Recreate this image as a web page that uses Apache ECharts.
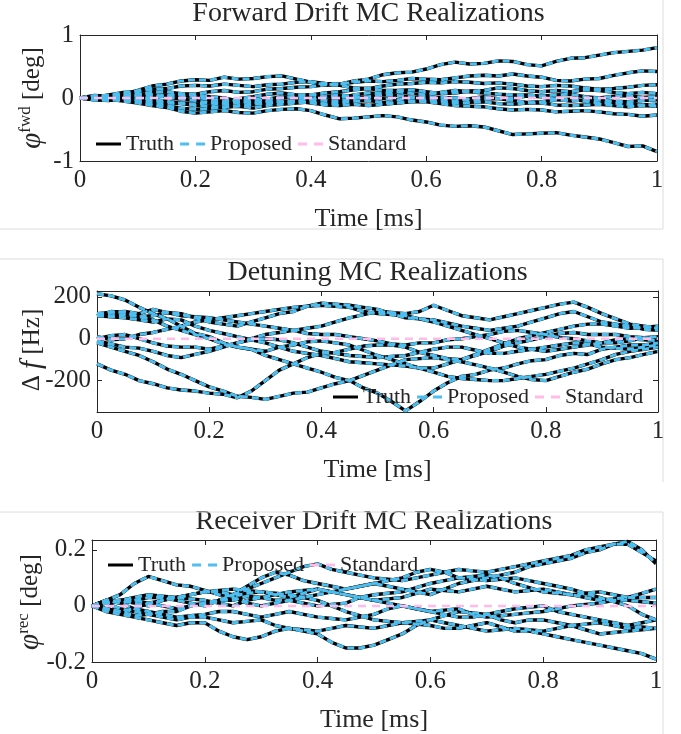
<!DOCTYPE html>
<html>
<head>
<meta charset="utf-8">
<script src="https://cdn.jsdelivr.net/npm/echarts@6/dist/echarts.min.js"></script>
<style>
html,body{margin:0;padding:0;background:#fff;}
#chart{width:681px;height:734px;}
</style>
</head>
<body>
<div id="chart"></div>
<script>
// ---------------- data ----------------
const timeMs = [0,0.025,0.05,0.075,0.1,0.125,0.15,0.175,0.2,0.225,0.25,0.275,0.3,0.325,0.35,0.375,0.4,0.425,0.45,0.475,0.5,
                0.525,0.55,0.575,0.6,0.625,0.65,0.675,0.7,0.725,0.75,0.775,0.8,0.825,0.85,0.875,0.9,0.925,0.95,0.975,1];
const xTicks = [0,0.2,0.4,0.6,0.8,1];

// Forward drift realizations [deg]
const fwd1  = [0,0.04,0.03,0.06,0.12,0.19,0.22,0.27,0.29,0.28,0.33,0.30,0.31,0.34,0.35,0.30,0.25,0.21,0.22,0.27,0.30,0.37,0.40,0.41,0.46,0.53,0.57,0.54,0.55,0.59,0.58,0.53,0.51,0.58,0.63,0.64,0.68,0.72,0.74,0.76,0.80];
const fwd2  = [0,0.01,0.05,0.09,0.10,0.14,0.15,0.19,0.20,0.19,0.22,0.20,0.18,0.21,0.22,0.25,0.26,0.23,0.22,0.25,0.27,0.26,0.28,0.31,0.30,0.29,0.32,0.35,0.36,0.35,0.38,0.35,0.33,0.28,0.27,0.30,0.31,0.36,0.40,0.43,0.42];
const fwd3  = [0,0.02,-0.02,0.03,0.05,0.09,0.10,0.07,0.06,0.10,0.12,0.09,0.10,0.14,0.15,0.17,0.18,0.21,0.20,0.16,0.15,0.19,0.22,0.23,0.25,0.24,0.26,0.25,0.23,0.24,0.22,0.19,0.18,0.20,0.19,0.16,0.14,0.15,0.17,0.20,0.21];
const fwd4  = [0,-0.01,0.02,0.03,0.00,0.02,0.05,0.04,0.02,-0.03,-0.05,-0.01,0.02,0.06,0.08,0.05,0.05,0.08,0.10,0.13,0.15,0.12,0.12,0.13,0.10,0.07,0.08,0.11,0.12,0.16,0.15,0.12,0.10,0.12,0.10,0.13,0.12,0.09,0.07,0.09,0.07];
const fwd5  = [0,-0.03,-0.04,0.00,0.02,-0.03,-0.05,-0.08,-0.10,-0.07,-0.08,-0.04,-0.02,-0.03,0.00,0.03,0.05,0.02,0.00,0.05,0.08,0.07,0.10,0.07,0.05,0.09,0.12,0.10,0.08,0.06,0.05,0.05,0.03,0.05,0.06,0.02,0.00,0.03,0.04,0.01,0.02];
const fwd6  = [0,0.03,0.04,0.00,-0.03,0.01,0.03,0.06,0.05,0.02,0.00,-0.05,-0.08,-0.06,-0.05,-0.05,-0.02,0.02,0.05,0.02,0.00,-0.01,-0.03,0.00,0.02,0.01,0.00,-0.03,-0.02,-0.01,0.00,0.03,0.02,-0.02,-0.05,-0.03,-0.03,-0.05,-0.06,-0.04,-0.03];
const fwd7  = [0,0.01,0.03,0.05,0.06,0.05,0.02,-0.02,-0.04,-0.08,-0.10,-0.07,-0.06,-0.02,0.02,0.01,-0.02,-0.04,-0.05,-0.01,0.02,0.05,0.04,0.01,-0.02,-0.03,-0.05,-0.01,0.02,-0.01,-0.04,-0.07,-0.06,-0.03,-0.02,-0.05,-0.08,-0.08,-0.10,-0.11,-0.10];
const fwd8  = [0,-0.02,-0.03,-0.02,-0.06,-0.10,-0.12,-0.16,-0.18,-0.17,-0.14,-0.13,-0.16,-0.12,-0.10,-0.08,-0.06,-0.09,-0.08,-0.05,-0.04,-0.07,-0.08,-0.05,-0.04,-0.06,-0.08,-0.07,-0.06,-0.09,-0.10,-0.08,-0.08,-0.11,-0.12,-0.11,-0.10,-0.12,-0.14,-0.12,-0.13];
const fwd9  = [0,0.03,0.02,-0.01,-0.03,-0.06,-0.08,-0.09,-0.12,-0.13,-0.15,-0.12,-0.10,-0.08,-0.06,-0.05,-0.08,-0.11,-0.12,-0.10,-0.12,-0.10,-0.08,-0.06,-0.06,-0.09,-0.12,-0.13,-0.14,-0.17,-0.19,-0.18,-0.19,-0.22,-0.21,-0.20,-0.22,-0.25,-0.26,-0.29,-0.27];
const fwd10 = [0,-0.03,-0.02,-0.05,-0.08,-0.12,-0.15,-0.21,-0.24,-0.22,-0.20,-0.23,-0.24,-0.20,-0.18,-0.17,-0.20,-0.27,-0.33,-0.32,-0.30,-0.28,-0.30,-0.35,-0.38,-0.43,-0.45,-0.44,-0.46,-0.52,-0.58,-0.57,-0.56,-0.55,-0.59,-0.62,-0.65,-0.71,-0.77,-0.76,-0.85];
const fwdStandard = [0,0];

// Detuning realizations [Hz]
const det1  = [215,205,185,150,120,95,60,25,10,-20,-40,-50,-80,-100,-120,-140,-160,-185,-200,-235,-260,-300,-345,-300,-250,-210,-180,-170,-150,-140,-120,-105,-100,-80,-70,-75,-50,-40,-30,-30,-20];
const det2  = [-120,-150,-170,-200,-215,-235,-245,-250,-260,-265,-282,-250,-200,-150,-120,-90,-70,-65,-50,-35,-30,-30,-40,-65,-80,-95,-100,-80,-60,-35,-20,-5,10,25,30,20,20,20,10,5,0];
const det3  = [-20,-40,-60,-80,-110,-145,-170,-200,-230,-250,-275,-280,-290,-275,-260,-255,-235,-215,-200,-175,-150,-125,-100,-95,-90,-100,-110,-125,-140,-160,-180,-195,-200,-180,-160,-145,-120,-100,-90,-75,-60];
const det4  = [120,110,115,105,90,60,40,20,0,-25,-40,-50,-60,-40,-30,-15,-10,-20,-30,-55,-80,-100,-120,-140,-160,-180,-190,-195,-200,-200,-190,-180,-170,-155,-140,-120,-100,-75,-60,-50,-40];
const det5  = [110,130,125,105,110,125,120,100,80,70,60,80,100,120,130,155,170,165,160,150,140,120,100,95,90,75,60,50,40,50,60,80,100,120,130,105,80,70,60,45,40];
const det6  = [10,-5,0,20,30,45,60,80,90,100,110,120,130,140,150,155,160,155,150,130,120,115,110,95,80,60,40,20,0,-20,-40,-50,-60,-50,-40,-30,-20,-5,0,-5,-10];
const det7  = [0,15,20,0,-20,-35,-40,-40,-50,-35,-20,0,20,30,40,25,20,20,10,0,-10,-25,-30,-20,-20,-5,0,10,20,35,40,30,20,5,0,-10,-20,-20,-10,5,10];
const det8  = [-10,-25,-40,-45,-60,-80,-90,-75,-60,-40,-20,-5,0,-5,-20,-40,-60,-70,-80,-85,-90,-85,-80,-65,-50,-40,-40,-55,-70,-70,-60,-50,-40,-30,-20,-25,-40,-45,-50,-40,-30];
const det9  = [110,105,100,90,80,95,90,60,40,25,10,-5,-20,-40,-60,-70,-80,-95,-110,-115,-120,-125,-130,-140,-140,-120,-100,-75,-50,-25,0,15,30,45,60,70,70,60,50,55,60];
const det10 = [120,125,130,120,140,125,110,105,100,90,80,70,60,50,40,50,60,80,100,115,130,125,120,130,160,135,110,100,90,105,120,135,150,165,175,150,120,95,70,60,50];
const detStandard = [0,0];

// Receiver drift realizations [deg]
const rec1  = [0,0.02,0.04,0.08,0.105,0.09,0.075,0.07,0.055,0.04,0.035,0.045,0.05,0.04,0.03,0.045,0.06,0.05,0.04,0.03,0.02,0.01,0.00,-0.01,-0.02,-0.03,-0.04,-0.04,-0.03,-0.05,-0.06,-0.05,-0.05,-0.06,-0.07,-0.065,-0.06,-0.07,-0.08,-0.075,-0.08];
const rec2  = [0,-0.02,-0.03,-0.04,-0.05,-0.06,-0.07,-0.06,-0.06,-0.09,-0.11,-0.12,-0.11,-0.09,-0.08,-0.085,-0.09,-0.08,-0.07,-0.075,-0.08,-0.07,-0.06,-0.065,-0.07,-0.08,-0.08,-0.07,-0.06,-0.075,-0.09,-0.09,-0.10,-0.11,-0.12,-0.13,-0.14,-0.15,-0.16,-0.17,-0.19];
const rec3  = [0,0.01,-0.01,-0.02,-0.03,-0.04,-0.05,-0.04,-0.04,-0.05,-0.06,-0.055,-0.05,-0.07,-0.08,-0.09,-0.10,-0.13,-0.15,-0.15,-0.14,-0.12,-0.10,-0.07,-0.05,-0.035,-0.02,-0.025,-0.03,-0.02,-0.01,-0.005,0.00,-0.02,-0.03,-0.04,-0.05,-0.06,-0.07,-0.06,-0.05];
const rec4  = [0,0.01,0.02,0.02,0.01,0.02,0.03,0.04,0.05,0.05,0.04,0.06,0.08,0.10,0.12,0.14,0.15,0.13,0.12,0.11,0.10,0.095,0.09,0.10,0.11,0.12,0.13,0.125,0.12,0.13,0.14,0.15,0.16,0.17,0.18,0.20,0.21,0.22,0.22,0.19,0.16];
const rec5  = [0,0.02,0.01,0.02,0.03,0.03,0.02,0.01,0.00,0.02,0.04,0.07,0.10,0.12,0.11,0.09,0.08,0.07,0.06,0.07,0.08,0.07,0.06,0.05,0.04,0.06,0.08,0.09,0.10,0.11,0.12,0.14,0.15,0.16,0.17,0.19,0.20,0.22,0.23,0.20,0.15];
const rec6  = [0,0.015,0.02,0.01,0.00,0.02,0.03,0.025,0.02,0.01,0.00,0.02,0.03,0.04,0.05,0.055,0.06,0.05,0.04,0.03,0.02,0.025,0.03,0.045,0.06,0.055,0.05,0.06,0.07,0.06,0.05,0.055,0.06,0.05,0.04,0.045,0.05,0.04,0.03,0.045,0.06];
const rec7  = [0,-0.01,-0.02,-0.01,0.01,0.00,-0.01,0.00,0.01,0.02,0.03,0.01,0.00,0.01,0.02,0.03,0.04,0.05,0.06,0.07,0.08,0.09,0.10,0.12,0.13,0.12,0.10,0.105,0.11,0.10,0.08,0.065,0.05,0.045,0.04,0.03,0.02,0.025,0.03,0.03,0.03];
const rec8  = [0,0.02,0.01,-0.01,-0.02,-0.03,-0.04,-0.035,-0.03,-0.02,-0.02,-0.03,-0.04,-0.03,-0.02,-0.03,-0.04,-0.045,-0.05,-0.04,-0.03,-0.01,0.00,-0.01,-0.02,-0.015,-0.01,-0.03,-0.04,-0.035,-0.03,-0.025,-0.02,-0.01,0.00,0.005,0.01,0.02,0.02,0.015,0.01];
const rec9  = [0,-0.01,-0.02,-0.035,-0.03,-0.02,-0.02,0.00,0.01,0.02,0.02,0.035,0.03,0.02,0.02,0.01,0.00,0.005,0.01,0.03,0.04,0.045,0.05,0.065,0.08,0.09,0.10,0.095,0.09,0.095,0.10,0.09,0.08,0.07,0.06,0.045,0.03,0.015,0.00,-0.03,-0.05];
const rec10 = [0,0.01,0.02,0.03,0.04,0.035,0.03,0.04,0.05,0.055,0.06,0.055,0.05,0.045,0.04,0.03,0.02,0.00,-0.02,-0.035,-0.05,-0.055,-0.06,-0.055,-0.05,-0.06,-0.07,-0.08,-0.09,-0.085,-0.08,-0.085,-0.09,-0.08,-0.07,-0.085,-0.10,-0.095,-0.09,-0.085,-0.08];
const recStandard = [0,0];
const standardTime = [0,1];

const fwdRuns = [fwd1,fwd2,fwd3,fwd4,fwd5,fwd6,fwd7,fwd8,fwd9,fwd10];
const detRuns = [det1,det2,det3,det4,det5,det6,det7,det8,det9,det10];
const recRuns = [rec1,rec2,rec3,rec4,rec5,rec6,rec7,rec8,rec9,rec10];

const fwdYTicks = [-1,0,1];
const detYTicks = [-200,0,200];
const recYTicks = [-0.2,0,0.2];

const legendNames = ['Truth','Proposed','Standard'];
const titles = ['Forward Drift MC Realizations','Detuning MC Realizations','Receiver Drift MC Realizations'];

// ---------------- style ----------------
const SERIF = '"Liberation Serif","Times New Roman",Times,serif';
const AX = '#262626';
const C_TRUTH = '#000000';
const C_PROP = '#4DBEEE';
const C_STD = '#FFBCE9';

const grids = [
  {left:80, top:35, width:577, height:126},
  {left:97, top:291, width:561, height:121},
  {left:92, top:540, width:564, height:123}
];
const yRanges = [
  {min:-1, max:1, ticks:fwdYTicks},
  {min:-350, max:228, ticks:detYTicks},
  {min:-0.2, max:0.235, ticks:recYTicks}
];

function pts(xs, vals){ return vals.map((v,i)=>[xs[i], v]); }

const xAxes = [], yAxes = [], series = [];
grids.forEach((g,gi)=>{
  xAxes.push({
    gridIndex:gi, type:'value', min:0, max:1, interval:0.2, position:'bottom',
    axisLine:{show:true, onZero:false, lineStyle:{color:AX, width:1}},
    axisTick:{show:true, inside:true, length:5, lineStyle:{color:AX}},
    axisLabel:{show:true, color:AX, fontFamily:SERIF, fontSize:25, margin:7, customValues:xTicks},
    splitLine:{show:false},
    name:'Time [ms]', nameLocation:'middle', nameGap:45,
    nameTextStyle:{color:AX, fontFamily:SERIF, fontSize:26}
  });
  xAxes.push({
    gridIndex:gi, type:'value', min:0, max:1, interval:0.2, position:'top',
    axisLine:{show:true, onZero:false, lineStyle:{color:AX, width:1}},
    axisTick:{show:true, inside:true, length:5, lineStyle:{color:AX}},
    axisLabel:{show:false}, splitLine:{show:false}
  });
  const r = yRanges[gi];
  yAxes.push({
    gridIndex:gi, type:'value', min:r.min, max:r.max, position:'left',
    axisLine:{show:true, onZero:false, lineStyle:{color:AX, width:1}},
    axisTick:{show:true, inside:true, length:5, lineStyle:{color:AX}, customValues:r.ticks},
    axisLabel:{show:true, color:AX, fontFamily:SERIF, fontSize:25, margin:6, customValues:r.ticks},
    splitLine:{show:false}
  });
  yAxes.push({
    gridIndex:gi, type:'value', min:r.min, max:r.max, position:'right',
    axisLine:{show:true, onZero:false, lineStyle:{color:AX, width:1}},
    axisTick:{show:true, inside:true, length:5, lineStyle:{color:AX}, customValues:r.ticks},
    axisLabel:{show:false}, splitLine:{show:false}
  });
});

const allRuns = [fwdRuns, detRuns, recRuns];
const stds = [fwdStandard, detStandard, recStandard];
allRuns.forEach((runs,gi)=>{
  runs.forEach(run=>{
    series.push({type:'line', name:'Truth', xAxisIndex:gi*2, yAxisIndex:gi*2, data:pts(timeMs, run),
      symbol:'none', silent:true, z:2,
      lineStyle:{color:C_TRUTH, width:3.4}, itemStyle:{color:C_TRUTH}});
  });
  runs.forEach(run=>{
    series.push({type:'line', name:'Proposed', xAxisIndex:gi*2, yAxisIndex:gi*2, data:pts(timeMs, run),
      symbol:'none', silent:true, z:3,
      lineStyle:{color:C_PROP, width:3, type:[7,4]}, itemStyle:{color:C_PROP}});
  });
  series.push({type:'line', name:'Standard', xAxisIndex:gi*2, yAxisIndex:gi*2, data:pts(standardTime, stds[gi]),
    symbol:'none', silent:true, z:4,
    lineStyle:{color:C_STD, width:2.5, type:[8,6]}, itemStyle:{color:C_STD}});
});

const DASH_ICON = 'path://M0,0H9V3H0Z M16,0H25V3H16Z';
const legendBase = {
  data:[{name:'Truth', icon:'rect'},{name:'Proposed', icon:DASH_ICON},{name:'Standard', icon:DASH_ICON}],
  orient:'horizontal', itemWidth:25, itemHeight:3, itemGap:6, symbolKeepAspect:false,
  selectedMode:false, textStyle:{color:AX, fontFamily:SERIF, fontSize:22}
};
const legends = [
  Object.assign({}, legendBase, {left:91, top:128}),
  Object.assign({}, legendBase, {left:328, top:381}),
  Object.assign({}, legendBase, {left:103, top:549})
];

const graphics = [];
const titleY = [14, 273, 522];
titles.forEach((tt,i)=>{
  const g = grids[i];
  graphics.push({type:'text', x:g.left+g.width/2, y:titleY[i],
    style:{text:tt, fill:AX, font:'28px '+SERIF, textAlign:'center', textVerticalAlign:'middle', align:'center', verticalAlign:'middle'}});
});
const yNames = [
  {x:32, y:98, text:'{p|φ}{s|fwd}{n| [deg]}'},
  {x:32, y:350, text:'{n|Δ }{p|f}{n| [Hz]}'},
  {x:30, y:602, text:'{p|φ}{s|rec}{n| [deg]}'}
];
const rich = {
  p:{fontFamily:SERIF, fontSize:29, fontStyle:'italic', fill:AX, color:AX},
  s:{fontFamily:SERIF, fontSize:17, fill:AX, color:AX, verticalAlign:'top'},
  n:{fontFamily:SERIF, fontSize:25, fill:AX, color:AX}
};
yNames.forEach(n=>{
  graphics.push({type:'text', x:n.x, y:n.y, rotation:Math.PI/2,
    style:{text:n.text, rich:rich, fill:AX, textAlign:'center', textVerticalAlign:'middle', align:'center', verticalAlign:'middle'}});
});
// faint figure frames
const FR = '#dcdcdc';
[[0,229,663,229],[663,0,663,229],[0,259,663,259],[663,259,663,482],[0,512,663,512],[663,512,663,734]].forEach(l=>{
  graphics.push({type:'line', shape:{x1:l[0],y1:l[1],x2:l[2],y2:l[3]}, style:{stroke:FR, lineWidth:1}, silent:true});
});

const chart = echarts.init(document.getElementById('chart'), null, {renderer:'canvas'});
chart.setOption({
  animation:false,
  backgroundColor:'#ffffff',
  grid: grids.map(g=>Object.assign({containLabel:false}, g)),
  xAxis: xAxes,
  yAxis: yAxes,
  legend: legends,
  series: series,
  graphic: graphics
});
</script>
</body>
</html>
